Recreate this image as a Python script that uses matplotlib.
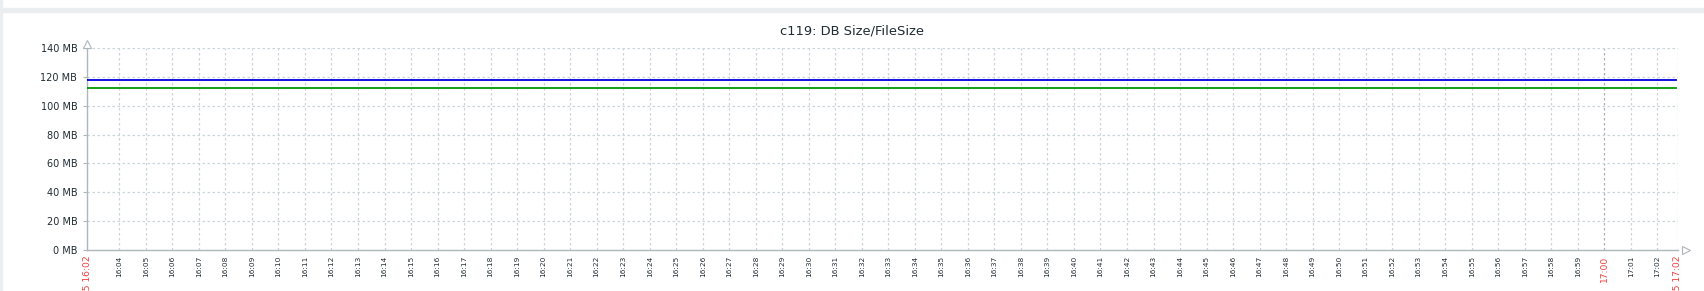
import matplotlib.pyplot as plt
from matplotlib.patches import Rectangle

# minutes after 16:00 for each sample
minutes = [2.78, 3.78, 4.78, 5.78, 6.78, 7.78, 8.78, 9.78, 10.78, 11.78,
           12.78, 13.78, 14.78, 15.78, 16.78, 17.78, 18.78, 19.78, 20.78, 21.78,
           22.78, 23.78, 24.78, 25.78, 26.78, 27.78, 28.78, 29.78, 30.78, 31.78,
           32.78, 33.78, 34.78, 35.78, 36.78, 37.78, 38.78, 39.78, 40.78, 41.78,
           42.78, 43.78, 44.78, 45.78, 46.78, 47.78, 48.78, 49.78, 50.78, 51.78,
           52.78, 53.78, 54.78, 55.78, 56.78, 57.78, 58.78, 59.78, 60.78, 61.78,
           62.70]
db_size = [117.6] * len(minutes)    # blue series, MB
file_size = [112.1] * len(minutes)  # green series, MB

y_ticks = [0, 20, 40, 60, 80, 100, 120, 140]
y_labels = ['0 MB', '20 MB', '40 MB', '60 MB', '80 MB', '100 MB', '120 MB', '140 MB']

start_label = '08-25 16:02'
end_label = '08-25 17:02'
x_start, x_end = 2.78, 62.78

tick_min = list(range(4, 63))
tick_lab = ['%d:%02d' % (16 + m // 60, m % 60) for m in tick_min]

grid_col = '#ccd5d9'
axis_col = '#acb6bb'
text_col = '#1f2c33'
red = '#f0403c'

fig = plt.figure(figsize=(17.04, 2.91), dpi=100)
fig.patches.append(Rectangle((0, 0), 2 / 1704, 1, transform=fig.transFigure,
                             color='#ebeef0', zorder=0))
fig.patches.append(Rectangle((2 / 1704, 1 - 12 / 291), 1, 4 / 291,
                             transform=fig.transFigure, color='#ebeef0', zorder=0))

ax = fig.add_axes([87 / 1704, 41 / 291, (1678 - 87) / 1704, 202 / 291])
ax.set_xlim(x_start, x_end)
ax.set_ylim(0, 140)

# grid
for m in tick_min:
    c = '#a9b1b5' if m == 60 else grid_col
    ax.axvline(m, color=c, lw=0.9, ls=(0, (2, 2)), zorder=1)
for v in y_ticks[1:]:
    ax.axhline(v, color=grid_col, lw=0.9, ls=(0, (2, 2)), zorder=1)
ax.axvline(x_end, color=grid_col, lw=0.9, ls=(0, (2, 2)), zorder=1)

ax.plot(minutes, db_size, color='#0000dd', lw=1.3, zorder=3)
ax.plot(minutes, file_size, color='#009900', lw=1.3, zorder=3)

for s in ['top', 'right']:
    ax.spines[s].set_visible(False)
for s in ['left', 'bottom']:
    ax.spines[s].set_color(axis_col)
    ax.spines[s].set_linewidth(1.0)

ax.set_yticks(y_ticks)
ax.set_yticklabels(y_labels, fontsize=7, color=text_col)
ax.tick_params(axis='y', length=3, color=axis_col, pad=4)

ax.set_xticks([x_start] + tick_min + [x_end])
ax.set_xticklabels([start_label] + tick_lab + [end_label], rotation=90,
                   fontsize=5.3, color=text_col)
ax.tick_params(axis='x', length=0, pad=4)
xl = ax.get_xticklabels()
for t in (xl[0], xl[-1], xl[1 + tick_min.index(60)]):
    t.set_color(red)
    t.set_fontsize(6.6)

# axis arrows
ax.plot([x_start], [142.5], marker='^', ms=6, mfc='white', mec=axis_col,
        mew=0.8, clip_on=False, zorder=4)
ax.plot([x_end + 0.3], [0], marker='>', ms=6, mfc='white', mec=axis_col,
        mew=0.8, clip_on=False, zorder=4)

fig.text(0.5, 1 - 31 / 291, 'c119: DB Size/FileSize', ha='center', va='center',
         fontsize=9.4, color=text_col)

fig.savefig('out.png', dpi=100, facecolor='white')
